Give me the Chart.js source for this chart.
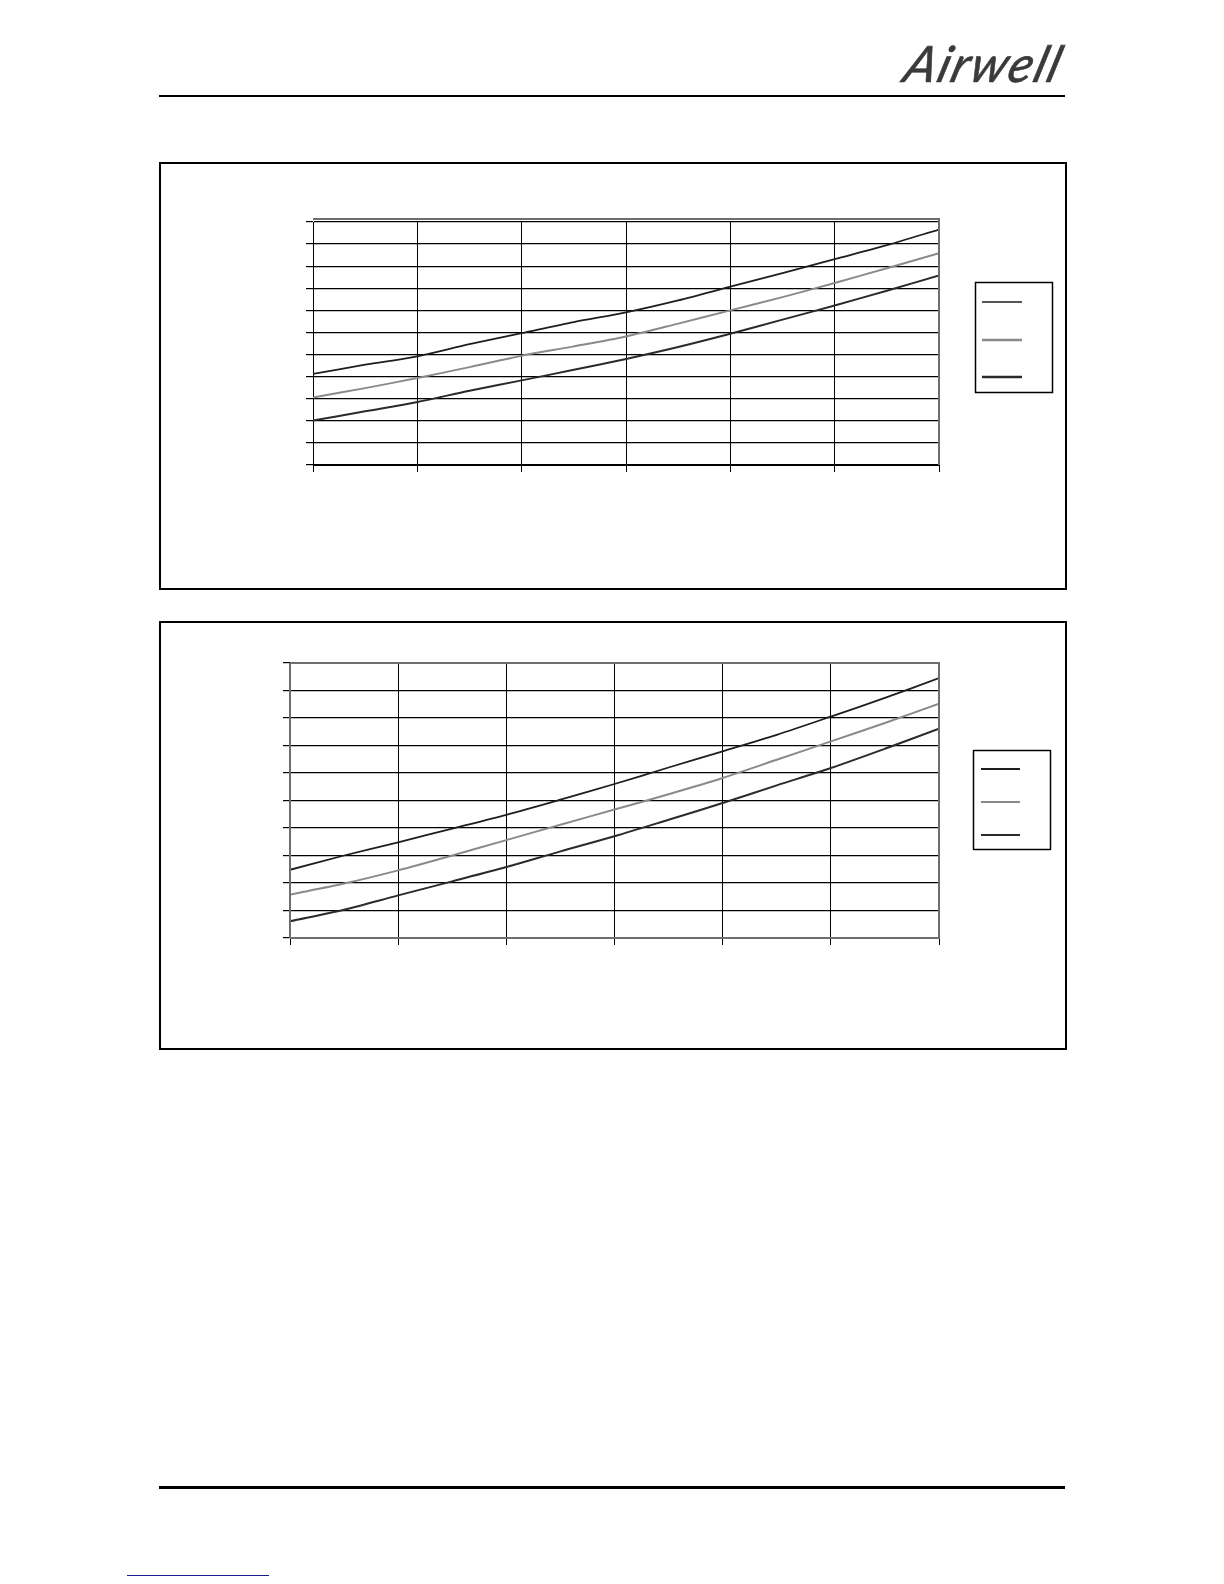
<!DOCTYPE html>
<html>
<head>
<meta charset="utf-8">
<script src="https://cdn.jsdelivr.net/npm/chart.js@4.4.0/dist/chart.umd.min.js"></script>
<style>
  html, body { margin: 0; padding: 0; background: #fff; }
  #page { position: relative; width: 1224px; height: 1584px; overflow: hidden; background: #fff; }
  .logo { position: absolute; left: 898px; top: 33px; font-family: Lato, "DejaVu Sans", sans-serif;
          font-style: italic; font-weight: 400; font-size: 50px; color: #3a3a3a; letter-spacing: 2px;
          transform: skewX(-16deg); transform-origin: left bottom; -webkit-text-stroke: 0.6px #3a3a3a; }
  .rule { position: absolute; background: #000; }
  .box { position: absolute; border: 2px solid #000; box-sizing: border-box; }
  .box canvas { position: absolute; left: 0; top: 0; }
  .link { position: absolute; left: 127px; top: 1575px; width: 142px; height: 1px; background: #1c1c8c; }
</style>
</head>
<body>
<div id="page">
  <div class="logo">Airwell</div>
  <div class="rule" style="left:159px; top:95px; width:906px; height:2px;"></div>

  <div class="box" style="left:159px; top:162px; width:908px; height:428px;">
    <canvas id="chart1" width="904" height="424"></canvas>
  </div>
  <div class="box" style="left:159px; top:621px; width:908px; height:429px;">
    <canvas id="chart2" width="904" height="425"></canvas>
  </div>

  <div class="rule" style="left:159px; top:1486px; width:906px; height:3px;"></div>
  <div class="link"></div>
</div>

<script>
// Valores (eje X sin etiquetas, pasos de 0,5)
const xValues = [0, 0.5, 1, 1.5, 2, 2.5, 3, 3.5, 4, 4.5, 5, 5.5, 6];

// Gráfico superior
const chart1Top = [4.12, 4.54, 4.92, 5.47, 5.97, 6.47, 6.91, 7.45, 8.07, 8.69, 9.32, 9.95, 10.66];
const chart1Mid = [3.06, 3.48, 3.94, 4.43, 4.95, 5.37, 5.82, 6.40, 7.00, 7.60, 8.24, 8.91, 9.59];
const chart1Low = [2.01, 2.43, 2.85, 3.36, 3.83, 4.31, 4.80, 5.34, 5.94, 6.58, 7.22, 7.89, 8.58];

// Gráfico inferior
const chart2Top = [2.48, 3.00, 3.48, 3.98, 4.48, 5.03, 5.60, 6.20, 6.79, 7.39, 8.05, 8.73, 9.45];
const chart2Mid = [1.58, 1.98, 2.46, 3.00, 3.56, 4.12, 4.67, 5.23, 5.82, 6.48, 7.15, 7.82, 8.52];
const chart2Low = [0.61, 1.03, 1.55, 2.06, 2.58, 3.15, 3.70, 4.30, 4.91, 5.55, 6.18, 6.88, 7.61];

const xMax = 6;
const chart1YMax = 11;
const chart2YMax = 10;

/**
 * Marco gris del área de trazado y leyenda sin texto (sólo muestras de línea).
 */
const frameAndLegend = {
  id: 'frameAndLegend',
  afterDraw(chart, args, opts) {
    const ctx = chart.ctx;
    const a = chart.chartArea;
    ctx.save();
    // Marco del área de trazado
    ctx.strokeStyle = '#6e6e6e';
    ctx.lineWidth = 2;
    const top = a.top - opts.frameOffset;
    ctx.beginPath();
    if (opts.sides.includes('top')) { ctx.moveTo(a.left, top); ctx.lineTo(a.right + 1, top); }
    if (opts.sides.includes('right')) { ctx.moveTo(a.right, top); ctx.lineTo(a.right, a.bottom); }
    if (opts.sides.includes('bottom')) { ctx.moveTo(a.left, a.bottom); ctx.lineTo(a.right + 1, a.bottom); }
    if (opts.sides.includes('left')) { ctx.moveTo(a.left, top); ctx.lineTo(a.left, a.bottom); }
    ctx.stroke();

    // Leyenda
    const lg = opts.legend;
    const lx = a.right + lg.dx;
    const ly = a.top + lg.dy;
    ctx.strokeStyle = '#000';
    ctx.lineWidth = 1.5;
    ctx.strokeRect(lx + 0.5, ly + 0.5, lg.w, lg.h);
    chart.data.datasets.forEach((ds, i) => {
      ctx.strokeStyle = ds.borderColor;
      ctx.lineWidth = lg.widths[i];
      ctx.beginPath();
      ctx.moveTo(lx + lg.pad, ly + lg.rows[i]);
      ctx.lineTo(lx + lg.pad + lg.len, ly + lg.rows[i]);
      ctx.stroke();
    });
    ctx.restore();
  }
};

function toPoints(values) {
  return values.map((v, i) => ({ x: xValues[i], y: v }));
}

function createChart(canvasId, series, yMax, padding, pluginOpts, axisColor) {
  const ctx = document.getElementById(canvasId).getContext('2d');
  const colors = ['#1e1e1e', '#8a8a8a', '#2a2a2a'];
  const widths = [1.8, 2, 2];
  return new Chart(ctx, {
    type: 'line',
    data: {
      datasets: series.map((s, i) => ({
        data: toPoints(s),
        borderColor: colors[i],
        borderWidth: widths[i],
        pointRadius: 0,
        tension: 0.3,
        fill: false,
      })),
    },
    options: {
      responsive: false,
      animation: false,
      events: [],
      layout: { padding: padding },
      plugins: {
        legend: { display: false },
        tooltip: { enabled: false },
        frameAndLegend: pluginOpts,
      },
      scales: {
        x: {
          type: 'linear',
          min: 0,
          max: xMax,
          ticks: { display: false, stepSize: 1 },
          grid: { color: '#000', lineWidth: 1, tickLength: 7, drawTicks: true },
          border: { color: axisColor, width: 1 },
        },
        y: {
          min: 0,
          max: yMax,
          ticks: { display: false, stepSize: 1 },
          grid: { color: '#000', lineWidth: 1.2, tickLength: 7, drawTicks: true },
          border: { color: axisColor, width: 1 },
        },
      },
    },
    plugins: [frameAndLegend],
  });
}

createChart('chart1', [chart1Top, chart1Mid, chart1Low], chart1YMax,
  { left: 145, top: 58, right: 126, bottom: 116 },
  {
    frameOffset: 3,
    sides: ['top', 'right'],
    legend: { dx: 36, dy: 60, w: 77, h: 110, pad: 7, len: 40, rows: [20, 58, 95], widths: [1.5, 2.5, 2.5] },
  },
  '#000');

createChart('chart2', [chart2Top, chart2Mid, chart2Low], chart2YMax,
  { left: 122, top: 40, right: 126, bottom: 103 },
  {
    frameOffset: 0,
    sides: ['top', 'right', 'bottom', 'left'],
    legend: { dx: 34, dy: 87, w: 77, h: 99, pad: 8, len: 39, rows: [19, 52, 85], widths: [2, 1.8, 2] },
  },
  '#6e6e6e');
</script>
</body>
</html>
